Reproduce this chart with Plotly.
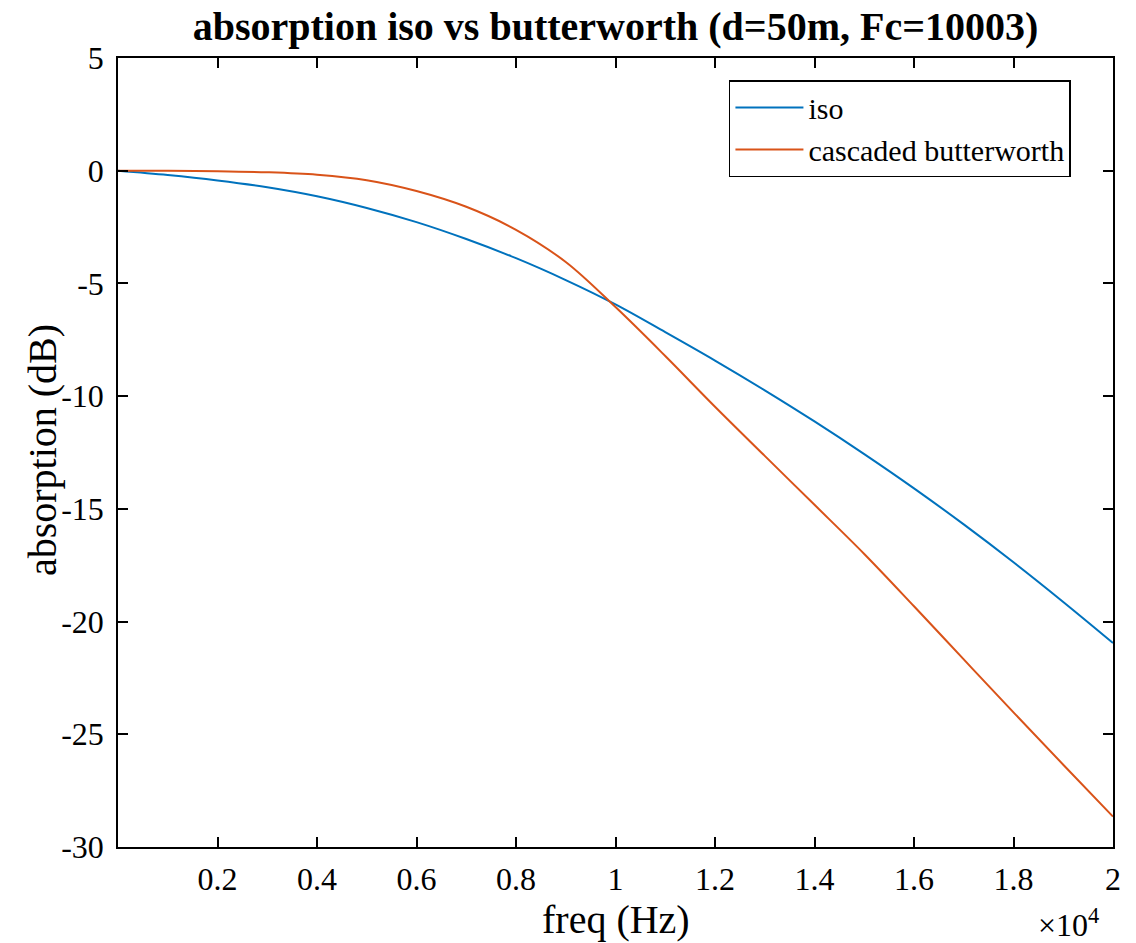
import plotly.graph_objects as go

# frequency grid (Hz)
freq = [0, 1000, 2000, 3000, 4000, 5000, 6000, 7000, 8000, 9000, 10000,
        11000, 12000, 13000, 14000, 15000, 16000, 17000, 18000, 19000, 20000]

# absorption (dB)
iso = [0, -0.19, -0.43, -0.73, -1.13, -1.65, -2.28, -3.03, -3.88, -4.85, -5.93,
       -7.16, -8.42, -9.74, -11.12, -12.57, -14.09, -15.69, -17.37, -19.13, -20.95]
butter = [0, 0, -0.02, -0.07, -0.18, -0.42, -0.9, -1.6, -2.62, -4.05, -6.05,
          -8.22, -10.47, -12.65, -14.82, -17.0, -19.32, -21.68, -24.03, -26.35, -28.65]

series_names = ["iso", "cascaded butterworth"]

x_tickvals = [2000, 4000, 6000, 8000, 10000, 12000, 14000, 16000, 18000, 20000]
x_ticktext = ["0.2", "0.4", "0.6", "0.8", "1", "1.2", "1.4", "1.6", "1.8", "2"]
y_tickvals = [-30, -25, -20, -15, -10, -5, 0, 5]
y_ticktext = ["-30", "-25", "-20", "-15", "-10", "-5", "0", "5"]

FONT = "Liberation Serif, Times New Roman, serif"

fig = go.Figure()
fig.add_trace(go.Scatter(x=freq, y=iso, mode="lines", name=series_names[0],
                         line=dict(color="#0072BD", width=2, shape="spline", smoothing=1.0)))
fig.add_trace(go.Scatter(x=freq, y=butter, mode="lines", name=series_names[1],
                         line=dict(color="#D95319", width=2, shape="spline", smoothing=1.0)))

fig.update_layout(
    width=1136, height=943,
    margin=dict(l=118, r=23, t=58, b=96),
    paper_bgcolor="white", plot_bgcolor="white",
    font=dict(family=FONT, color="black", size=32),
    title=dict(text="<b>absorption iso vs butterworth (d=50m, Fc=10003)</b>",
               x=0.5418, xanchor="center", y=0.972, yanchor="middle",
               font=dict(family=FONT, size=40, color="black")),
    showlegend=True,
    legend=dict(x=0.614, y=0.972, xanchor="left", yanchor="top",
                bgcolor="white", bordercolor="black", borderwidth=1.5,
                font=dict(family=FONT, size=30, color="black"),
                itemwidth=68, tracegroupgap=0),
    xaxis=dict(range=[0, 20000], tickvals=x_tickvals, ticktext=x_ticktext,
               ticks="inside", ticklen=10, tickwidth=1.5, tickcolor="black",
               showline=True, linecolor="black", linewidth=1.5, mirror="ticks",
               showgrid=False, zeroline=False, ticklabelstandoff=3,
               tickfont=dict(family=FONT, size=32)),
    yaxis=dict(range=[-30, 5], tickvals=y_tickvals, ticktext=y_ticktext,
               ticks="inside", ticklen=10, tickwidth=1.5, tickcolor="black",
               showline=True, linecolor="black", linewidth=1.5, mirror="ticks",
               showgrid=False, zeroline=False, ticklabelstandoff=6,
               tickfont=dict(family=FONT, size=32)),
    annotations=[
        dict(text="freq (Hz)", xref="paper", yref="paper", x=0.5, y=-0.092,
             xanchor="center", yanchor="middle", showarrow=False,
             font=dict(family=FONT, size=40)),
        dict(text="absorption (dB)", xref="paper", yref="paper", x=-0.0764, y=0.503,
             xanchor="center", yanchor="middle", textangle=-90, showarrow=False,
             font=dict(family=FONT, size=40)),
        dict(text="\u00d710<sup>4</sup>", xref="paper", yref="paper", x=0.955, y=-0.096,
             xanchor="center", yanchor="middle", showarrow=False,
             font=dict(family=FONT, size=32)),
    ],
)

fig.write_html("out.html")
